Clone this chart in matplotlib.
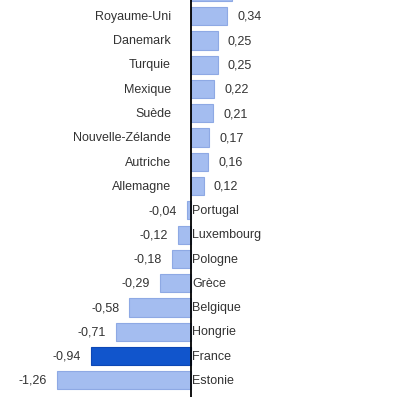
import matplotlib.pyplot as plt

# valeurs (la première barre est coupée en haut)
pays = ['', 'Royaume-Uni', 'Danemark', 'Turquie', 'Mexique', 'Suède',
        'Nouvelle-Zélande', 'Autriche', 'Allemagne', 'Portugal', 'Luxembourg',
        'Pologne', 'Grèce', 'Belgique', 'Hongrie', 'France', 'Estonie']
valeurs = [0.39, 0.34, 0.25, 0.25, 0.22, 0.21, 0.17, 0.16, 0.12, -0.04, -0.12,
           -0.18, -0.29, -0.58, -0.71, -0.94, -1.26]
pays_mis_en_avant = 'France'


def fmt(v):
    return f'{v:.2f}'.replace('.', ',')


plt.rcParams['font.family'] = ['Liberation Sans', 'DejaVu Sans']

fig = plt.figure(figsize=(4.10, 3.97), dpi=100)
ax = fig.add_axes([0, 0, 1, 1])

pos = list(range(len(pays)))
couleurs = ['#1155cc' if p == pays_mis_en_avant else '#a4bdf0' for p in pays]
bords = ['#0d47b5' if p == pays_mis_en_avant else '#8ea9e4' for p in pays]
ax.barh(pos, valeurs, height=0.75, color=couleurs, edgecolor=bords, linewidth=0.8, zorder=2)
ax.axvline(0, color='black', lw=1.3, zorder=3)

txt = '#333333'
for i, (p, v) in enumerate(zip(pays, valeurs)):
    if v >= 0:
        ax.annotate(p, (0, i), xytext=(-14.4, -0.5), textcoords='offset points',
                    ha='right', va='center', fontsize=9, color=txt)
        ax.annotate(fmt(v), (v, i), xytext=(7.2, -0.5), textcoords='offset points',
                    ha='left', va='center', fontsize=9, color=txt)
    else:
        ax.annotate(p, (0, i), xytext=(0.8, -0.5), textcoords='offset points',
                    ha='left', va='center', fontsize=9, color=txt)
        ax.annotate(fmt(v), (v, i), xytext=(-7.2, -0.5), textcoords='offset points',
                    ha='right', va='center', fontsize=9, color=txt)

ax.set_xlim(-1.797, 2.06)
ax.set_ylim(16.69, 0.33)
ax.axis('off')

plt.savefig('out.png', dpi=100)
